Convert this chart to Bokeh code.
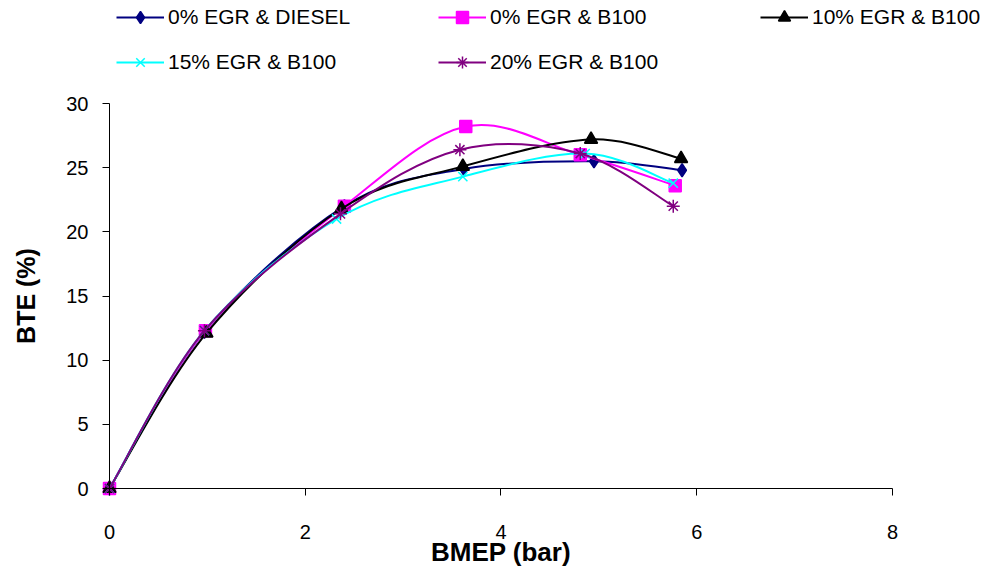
import math

from bokeh.plotting import figure
from bokeh.models import Legend, LegendItem, FixedTicker, Range1d, Label
from bokeh.embed import file_html
from bokeh.resources import INLINE

# BTE (%) against BMEP (bar) for each EGR / fuel combination
bmep_diesel = [0.0, 0.97, 2.40, 3.62, 4.95, 5.85]
bte_diesel = [0.0, 12.2, 22.0, 24.9, 25.5, 24.8]

bmep_b100_0 = [0.0, 0.98, 2.40, 3.64, 4.81, 5.78]
bte_b100_0 = [0.0, 12.3, 22.0, 28.2, 26.0, 23.6]

bmep_b100_10 = [0.0, 0.99, 2.37, 3.61, 4.92, 5.84]
bte_b100_10 = [0.0, 12.1, 21.8, 25.1, 27.2, 25.7]

bmep_b100_15 = [0.0, 0.97, 2.32, 3.61, 4.86, 5.76]
bte_b100_15 = [0.0, 12.3, 21.0, 24.3, 26.1, 23.8]

bmep_b100_20 = [0.0, 0.97, 2.36, 3.58, 4.81, 5.76]
bte_b100_20 = [0.0, 12.3, 21.4, 26.4, 26.1, 22.0]

series_labels = ["0% EGR & DIESEL", "0% EGR & B100", "10% EGR & B100",
                 "15% EGR & B100", "20% EGR & B100"]
x_ticks = [0, 2, 4, 6, 8]
y_ticks = [0, 5, 10, 15, 20, 25, 30]

FONT = "Liberation Sans"

# The plotting frame fills the whole canvas; the axes sit at x=0 / y=0 and are
# bounded to 0-8 bar and 0-30 %, leaving room for the legend and titles.
p = figure(width=995, height=571, output_backend="svg", toolbar_location=None,
           x_range=Range1d(-1.1137, 9.0524), y_range=Range1d(-6.4675, 38.026),
           min_border=0, min_border_left=0, min_border_right=0,
           min_border_top=0, min_border_bottom=0)
p.xgrid.visible = False
p.ygrid.visible = False
p.outline_line_color = None
p.background_fill_color = "white"
p.border_fill_color = "white"

for ax in (p.xaxis[0], p.yaxis[0]):
    ax.fixed_location = 0
    ax.axis_line_color = "black"
    ax.axis_line_width = 1
    ax.major_tick_line_color = "black"
    ax.major_tick_out = 7
    ax.major_tick_in = 0
    ax.minor_tick_line_color = None
    ax.major_label_text_font = FONT
    ax.major_label_text_font_size = "20px"
    ax.major_label_text_color = "black"

p.xaxis.bounds = (0, 8)
p.yaxis.bounds = (0, 30)
p.xaxis.ticker = FixedTicker(ticks=x_ticks)
p.yaxis.ticker = FixedTicker(ticks=y_ticks)
p.xaxis.major_label_standoff = 29
p.yaxis.major_label_standoff = 14

p.add_layout(Label(x=4, y=-4.91, text="BMEP (bar)", text_align="center",
                   text_baseline="middle", text_font=FONT,
                   text_font_size="26px", text_font_style="bold",
                   text_color="black"))
p.add_layout(Label(x=-0.858, y=15, text="BTE (%)", angle=math.pi / 2,
                   text_align="center", text_baseline="middle",
                   text_font=FONT, text_font_size="25px",
                   text_font_style="bold", text_color="black"))


def smooth_segments(xs, ys):
    """Cubic Bezier pieces through the points (Catmull-Rom style tangents)."""
    n = len(xs)
    seg = dict(x0=[], y0=[], x1=[], y1=[], cx0=[], cy0=[], cx1=[], cy1=[])
    for i in range(n - 1):
        a = max(i - 1, 0)
        b = min(i + 2, n - 1)
        seg["x0"].append(xs[i]); seg["y0"].append(ys[i])
        seg["x1"].append(xs[i + 1]); seg["y1"].append(ys[i + 1])
        seg["cx0"].append(xs[i] + (xs[i + 1] - xs[a]) / 6.0)
        seg["cy0"].append(ys[i] + (ys[i + 1] - ys[a]) / 6.0)
        seg["cx1"].append(xs[i + 1] - (xs[b] - xs[i]) / 6.0)
        seg["cy1"].append(ys[i + 1] - (ys[b] - ys[i]) / 6.0)
    return seg


series = [
    (bmep_diesel, bte_diesel, "#000080", "diamond", 13),
    (bmep_b100_0, bte_b100_0, "#FF00FF", "square", 12),
    (bmep_b100_10, bte_b100_10, "#000000", "triangle", 13),
    (bmep_b100_15, bte_b100_15, "#00FFFF", "x", 13),
    (bmep_b100_20, bte_b100_20, "#800080", "asterisk", 13),
]

items = []
for (xs, ys, color, marker, size), label in zip(series, series_labels):
    seg = smooth_segments(xs, ys)
    curve = p.bezier(x0=seg["x0"], y0=seg["y0"], x1=seg["x1"], y1=seg["y1"],
                     cx0=seg["cx0"], cy0=seg["cy0"],
                     cx1=seg["cx1"], cy1=seg["cy1"],
                     line_color=color, line_width=2)
    pts = p.scatter(xs, ys, marker=marker, size=size, fill_color=color,
                    line_color=color, line_width=1.5)
    items.append(LegendItem(label=label, renderers=[curve, pts]))

legend = Legend(items=items, location=(116, 494), ncols=3,
                orientation="horizontal",
                glyph_width=48, glyph_height=30, label_height=30,
                label_width=255, label_standoff=4, spacing=15,
                padding=0, margin=0,
                label_text_font=FONT, label_text_font_size="21px",
                label_text_color="black",
                border_line_color=None, background_fill_alpha=0)
p.add_layout(legend, "center")

open("out.html", "w").write(file_html(p, INLINE))
